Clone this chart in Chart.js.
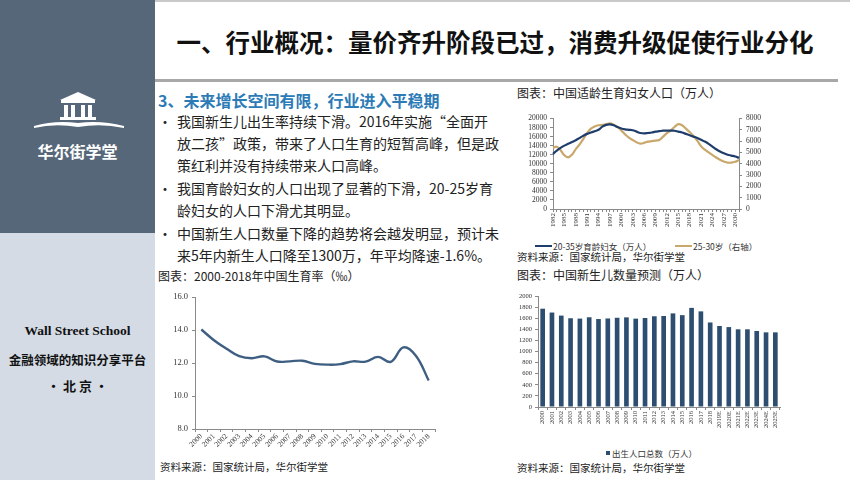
<!DOCTYPE html>
<html>
<head>
<meta charset="utf-8">
<script src="https://cdn.jsdelivr.net/npm/chart.js@4.4.1/dist/chart.umd.min.js"></script>
<style>
  body { margin: 0; width: 850px; height: 480px; position: relative; overflow: hidden; background: #fff;
         font-family: "Noto Sans CJK SC", "Noto Sans", sans-serif; color: #222; }
  .abs { position: absolute; white-space: nowrap; }
  #side-top { left: 0; top: 0; width: 155px; height: 233px; background: #56677a; }
  #side-bot { left: 0; top: 233px; width: 155px; height: 247px; background: #d4dbe5; }
  .side-txt { width: 155px; text-align: center; font-weight: bold; }
  .line { font-size: 14px; line-height: 20px; }
  .ctitle { font-size: 12px; line-height: 16px; color: #222; }
  .src { font-size: 10.5px; line-height: 14px; color: #222; }
  .lg { font-size: 8.5px; line-height: 12px; color: #333; }
</style>
</head>
<body>
<div class="abs" style="left:0;top:0;width:850px;height:2px;background:#c9c9c9"></div>
<div class="abs" id="side-top"></div>
<div class="abs" id="side-bot"></div>

<!-- logo -->
<svg class="abs" style="left:0;top:0" width="155" height="140">
  <polygon points="78,92 96,100 60,100" fill="#fff"/>
  <rect x="61" y="100" width="34" height="3" fill="#fff"/>
  <rect x="64" y="105" width="4" height="12" fill="#fff"/>
  <rect x="71" y="105" width="4" height="12" fill="#fff"/>
  <rect x="81" y="105" width="4" height="12" fill="#fff"/>
  <rect x="88" y="105" width="4" height="12" fill="#fff"/>
  <rect x="60" y="117" width="36" height="3" fill="#fff"/>
  <path d="M34,126 Q55,120 78,123 Q101,120 124,126 L124,128 Q101,123 78,127 Q55,123 34,128 Z" fill="#fff"/>
</svg>
<div class="abs side-txt" style="left:0;top:141px;font-size:16px;line-height:20px;color:#fff">华尔街学堂</div>
<div class="abs side-txt" style="left:0;top:322px;font-size:13.5px;line-height:18px;font-family:'Liberation Serif',serif;color:#111">Wall Street School</div>
<div class="abs side-txt" style="left:0;top:351px;font-size:12.5px;line-height:18px;color:#111">金融领域的知识分享平台</div>
<div class="abs side-txt" style="left:0;top:377px;font-size:13px;line-height:18px;color:#111">• 北 京 •</div>

<!-- title -->
<div class="abs" style="left:155px;top:26px;width:680px;text-align:center;font-size:24.5px;line-height:32px;font-weight:bold;color:#111">一、行业概况：量价齐升阶段已过，消费升级促使行业分化</div>
<div class="abs" style="left:155px;top:79px;width:683px;height:3px;background:#a8a8a8"></div>

<!-- text block -->
<div class="abs" style="left:158px;top:90px;font-size:16px;line-height:20px;font-weight:bold;color:#2c7bb6">3、未来增长空间有限，行业进入平稳期</div>
<div class="abs line" style="left:158px;top:111px">•</div>
<div class="abs line" style="left:177px;top:111px">我国新生儿出生率持续下滑。2016年实施“全面开</div>
<div class="abs line" style="left:177px;top:133px">放二孩”政策，带来了人口生育的短暂高峰，但是政</div>
<div class="abs line" style="left:177px;top:155px">策红利并没有持续带来人口高峰。</div>
<div class="abs line" style="left:158px;top:178px">•</div>
<div class="abs line" style="left:177px;top:178px">我国育龄妇女的人口出现了显著的下滑，20-25岁育</div>
<div class="abs line" style="left:177px;top:200px">龄妇女的人口下滑尤其明显。</div>
<div class="abs line" style="left:158px;top:223px">•</div>
<div class="abs line" style="left:177px;top:223px">中国新生人口数量下降的趋势将会越发明显，预计未</div>
<div class="abs line" style="left:177px;top:245px">来5年内新生人口降至1300万，年平均降速-1.6%。</div>

<!-- chart titles / sources / legends -->
<div class="abs ctitle" style="left:517px;top:85px">图表：中国适龄生育妇女人口（万人）</div>
<div class="abs ctitle" style="left:158px;top:268px">图表：2000-2018年中国生育率（‰）</div>
<div class="abs ctitle" style="left:517px;top:267px">图表：中国新生儿数量预测（万人）</div>
<div class="abs src" style="left:517px;top:250px">资料来源：国家统计局，华尔街学堂</div>
<div class="abs src" style="left:160px;top:460px">资料来源：国家统计局，华尔街学堂</div>
<div class="abs src" style="left:517px;top:461px">资料来源：国家统计局，华尔街学堂</div>

<div class="abs" style="left:535px;top:245px;width:17px;height:2px;background:#1f3d6b"></div>
<div class="abs lg" style="left:553px;top:240px">20-35岁育龄妇女（万人）</div>
<div class="abs" style="left:675px;top:245px;width:17px;height:2px;background:#c9a86c"></div>
<div class="abs lg" style="left:693px;top:240px">25-30岁（右轴）</div>

<div class="abs" style="left:606px;top:451px;width:4px;height:4px;background:#2d4e70"></div>
<div class="abs lg" style="left:612px;top:447px">出生人口总数（万人）</div>

<canvas class="abs" id="c1" width="265" height="125" style="left:510px;top:110px"></canvas>
<canvas class="abs" id="c2" width="290" height="180" style="left:155px;top:285px"></canvas>
<canvas class="abs" id="c3" width="275" height="160" style="left:510px;top:285px"></canvas>

<script>
// ---- chart 1: women of childbearing age (1982-2031) ----
const womenYears = [];
for (let y = 1982; y <= 2031; y++) womenYears.push(String(y));
const women2035 = [12200, 12900, 13500, 14000, 14400, 14800, 15200, 15700, 16200, 16600,
                   16900, 17200, 17500, 18200, 18600, 18700, 18500, 18100, 17800, 17600,
                   17500, 17400, 17100, 16800, 16700, 16800, 16900, 17100, 17200, 17300,
                   17300, 17300, 17300, 17100, 16900, 16600, 16300, 16000, 15700, 15300,
                   14900, 14400, 13800, 13200, 12700, 12300, 12000, 11800, 11600, 11300];
const women2530 = [5400, 5500, 5200, 4750, 4570, 4800, 5300, 5700, 6200, 6700,
                   7100, 7300, 7400, 7430, 7500, 7570, 7450, 7230, 6950, 6600,
                   6300, 6100, 5900, 5780, 5850, 5950, 6000, 6050, 6100, 6400,
                   6700, 6950, 7250, 7500, 7400, 7100, 6800, 6450, 6050, 5550,
                   5250, 5000, 4770, 4550, 4350, 4200, 4100, 4100, 4180, 4330];

// ---- chart 2: birth rate 2000-2018 (‰) ----
const rateYears = ["2000", "2001", "2002", "2003", "2004", "2005", "2006", "2007", "2008", "2009",
                   "2010", "2011", "2012", "2013", "2014", "2015", "2016", "2017", "2018"];
const birthRate = [14.03, 13.38, 12.86, 12.41, 12.29, 12.40, 12.09, 12.10, 12.14, 11.95,
                   11.90, 11.93, 12.10, 12.08, 12.37, 12.07, 12.95, 12.43, 10.94];

// ---- chart 3: newborns forecast (万人) ----
const birthYears = ["2000", "2001", "2002", "2003", "2004", "2005", "2006", "2007", "2008", "2009",
                    "2010", "2011", "2012", "2013", "2014", "2015", "2016", "2017", "2018",
                    "2019E", "2020E", "2021E", "2022E", "2023E", "2024E", "2025E"];
const births = [1771, 1702, 1647, 1599, 1593, 1617, 1585, 1595, 1608, 1615,
                1592, 1604, 1635, 1640, 1687, 1655, 1786, 1723, 1523,
                1460, 1440, 1400, 1400, 1370, 1345, 1345];

const axisCol = "#8a8a8a";
const tickFont = (size) => ({ family: "'Liberation Serif', serif", size });
const gridOpt = { display: true, drawOnChartArea: false, drawTicks: true, tickLength: 3, color: axisCol };
const borderOpt = { display: true, color: axisCol, width: 1 };
const fixW = (w) => (scale) => { scale.width = w; };
const fixH = (h) => (scale) => { scale.height = h; };
const plain = (v) => String(v);   // no thousands separator, like the source

new Chart(document.getElementById("c1"), {
    type: "line",
    data: {
        labels: womenYears,
        datasets: [
            { data: women2035, yAxisID: "y", borderColor: "#1f3d6b", borderWidth: 2.2, pointRadius: 0, tension: 0.4 },
            { data: women2530, yAxisID: "y1", borderColor: "#c9a86c", borderWidth: 2.2, pointRadius: 0, tension: 0.4 }
        ]
    },
    options: {
        responsive: false, animation: false,
        layout: { padding: { top: 7, left: 0, right: 0, bottom: 0 } },
        plugins: { legend: { display: false }, tooltip: { enabled: false } },
        scales: {
            x: {
                grid: gridOpt, border: borderOpt, afterFit: fixH(26),
                ticks: { autoSkip: false, minRotation: 90, maxRotation: 90, padding: 1, color: "#333", font: tickFont(7),
                         callback: (v, i) => (i % 3 === 0 ? womenYears[i] : "") }
            },
            y: {
                min: 0, max: 20000, grid: gridOpt, border: borderOpt, afterFit: fixW(43),
                ticks: { stepSize: 2000, autoSkip: false, padding: 3, color: "#333", font: tickFont(7.5), callback: plain }
            },
            y1: {
                position: "right", min: 0, max: 8000, grid: gridOpt, border: borderOpt, afterFit: fixW(36),
                ticks: { stepSize: 1000, autoSkip: false, padding: 4, color: "#333", font: tickFont(7.5), callback: plain }
            }
        }
    }
});

new Chart(document.getElementById("c2"), {
    type: "line",
    data: {
        labels: rateYears,
        datasets: [{ data: birthRate, borderColor: "#3f5f82", borderWidth: 2.4, pointRadius: 0, tension: 0.4 }]
    },
    options: {
        responsive: false, animation: false,
        layout: { padding: { top: 12, left: 0, right: 10, bottom: 0 } },
        plugins: { legend: { display: false }, tooltip: { enabled: false } },
        scales: {
            x: {
                offset: true, grid: { ...gridOpt, offset: true }, border: borderOpt, afterFit: fixH(36),
                ticks: { autoSkip: false, minRotation: 45, maxRotation: 45, padding: 0, color: "#333", font: tickFont(7.5) }
            },
            y: {
                min: 8, max: 16, grid: gridOpt, border: borderOpt, afterFit: fixW(40),
                ticks: { stepSize: 2, padding: 4, color: "#333", font: tickFont(8.5), callback: (v) => v.toFixed(1) }
            }
        }
    }
});

new Chart(document.getElementById("c3"), {
    type: "bar",
    data: {
        labels: birthYears,
        datasets: [{ data: births, backgroundColor: "#2d4e70", barPercentage: 0.5, categoryPercentage: 1 }]
    },
    options: {
        responsive: false, animation: false,
        layout: { padding: { top: 11, left: 0, right: 5, bottom: 0 } },
        plugins: { legend: { display: false }, tooltip: { enabled: false } },
        scales: {
            x: {
                grid: gridOpt, border: borderOpt, afterFit: fixH(38),
                ticks: { autoSkip: false, minRotation: 90, maxRotation: 90, padding: 1, color: "#333", font: tickFont(6.5) }
            },
            y: {
                min: 0, max: 2000, grid: gridOpt, border: borderOpt, afterFit: fixW(28),
                ticks: { stepSize: 200, autoSkip: false, padding: 3, color: "#333", font: tickFont(6.5), callback: plain }
            }
        }
    }
});
</script>
</body>
</html>
